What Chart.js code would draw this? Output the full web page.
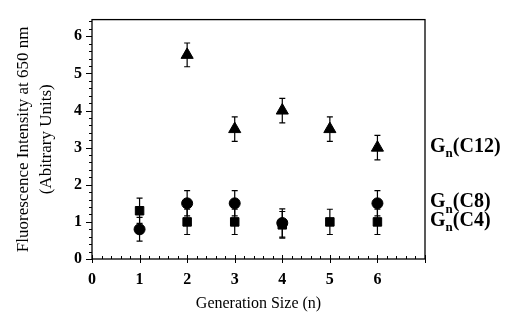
<!DOCTYPE html>
<html>
<head>
<meta charset="utf-8">
<script src="https://cdn.jsdelivr.net/npm/chart.js@4"></script>
<style>
  html, body { margin: 0; padding: 0; background: #fff; }
  #wrap { width: 511px; height: 322px; }
</style>
</head>
<body>
<div id="wrap"><canvas id="chart"></canvas></div>
<script>
// generation sizes
const genC12 = [2, 3, 4, 5, 6];
const genC8 = [1, 2, 3, 4, 6];
const genC4 = [1, 2, 3, 4, 5, 6];

// fluorescence values and error (+/-)
const valC12 = [5.5, 3.5, 4.0, 3.5, 3.0];
const errC12 = [0.32, 0.33, 0.33, 0.33, 0.33];
const valC8 = [0.8, 1.5, 1.5, 0.97, 1.5];
const errC8 = [0.32, 0.34, 0.34, 0.38, 0.34];
const valC4 = [1.3, 1.0, 1.0, 0.92, 1.0, 1.0];
const errC4 = [0.34, 0.34, 0.34, 0.36, 0.34, 0.34];

const seriesNames = ['C12', 'C8', 'C4'];
const xTicks = [0, 1, 2, 3, 4, 5, 6];
const yTicks = [0, 1, 2, 3, 4, 5, 6];

const serif = '"Liberation Serif", "Times New Roman", serif';

function pts(xs, ys, es) {
    return xs.map((x, i) => ({ x: x, y: ys[i], err: es[i] }));
}

// error bars, plot frame, minor ticks and the right-hand labels
const extras = {
    id: 'extras',
    afterDatasetsDraw(chart) {
        const ctx = chart.ctx;
        const xs = chart.scales.x, ys = chart.scales.y;
        ctx.save();
        ctx.strokeStyle = '#000';
        ctx.lineWidth = 1.2;
        chart.data.datasets.forEach(ds => {
            ds.data.forEach(p => {
                const px = xs.getPixelForValue(p.x);
                const top = ys.getPixelForValue(p.y + p.err);
                const bot = ys.getPixelForValue(p.y - p.err);
                ctx.beginPath();
                ctx.moveTo(px, top); ctx.lineTo(px, bot);
                ctx.moveTo(px - 3, top); ctx.lineTo(px + 3, top);
                ctx.moveTo(px - 3, bot); ctx.lineTo(px + 3, bot);
                ctx.stroke();
            });
        });

        const a = chart.chartArea;
        ctx.lineWidth = 1.3;
        ctx.strokeRect(a.left, a.top, a.right - a.left, a.bottom - a.top);

        // minor ticks every 0.2
        ctx.lineWidth = 1;
        ctx.beginPath();
        for (let v = 0; v <= 7.001; v += 0.2) {
            const px = Math.round(xs.getPixelForValue(v)) + 0.5;
            const major = Math.abs(v - Math.round(v)) < 0.01;
            ctx.moveTo(px, a.bottom - (major ? 4 : 3));
            ctx.lineTo(px, a.bottom + (major ? 4 : 0));
        }
        for (let v = 0; v <= 6.401; v += 0.2) {
            const py = Math.round(ys.getPixelForValue(v)) + 0.5;
            const major = Math.abs(v - Math.round(v)) < 0.01;
            ctx.moveTo(a.left - (major ? 6 : 3), py);
            ctx.lineTo(a.left, py);
        }
        ctx.stroke();

        // series labels at the right, next to each series' last value
        ctx.fillStyle = '#000';
        ctx.textBaseline = 'middle';
        const anchors = [valC12[valC12.length - 1], valC8[valC8.length - 1], valC4[valC4.length - 1]];
        seriesNames.forEach((name, i) => {
            const py = ys.getPixelForValue(anchors[i]) - 1;
            let x = a.right + 5;
            ctx.font = 'bold 20px ' + serif;
            ctx.fillText('G', x, py);
            x += ctx.measureText('G').width;
            ctx.font = 'bold 13px ' + serif;
            ctx.fillText('n', x, py + 7);
            x += ctx.measureText('n').width;
            ctx.font = 'bold 20px ' + serif;
            ctx.fillText('(' + name + ')', x, py);
        });
        ctx.restore();
    }
};

new Chart(document.getElementById('chart'), {
    type: 'scatter',
    data: {
        datasets: [
            {
                label: 'Gn(C12)',
                data: pts(genC12, valC12, errC12),
                pointStyle: 'triangle',
                pointRadius: 7,
                backgroundColor: '#000',
                borderColor: '#000'
            },
            {
                label: 'Gn(C8)',
                data: pts(genC8, valC8, errC8),
                pointStyle: 'circle',
                pointRadius: 5.5,
                backgroundColor: '#000',
                borderColor: '#000'
            },
            {
                label: 'Gn(C4)',
                data: pts(genC4, valC4, errC4),
                pointStyle: 'rect',
                pointRadius: 6,
                backgroundColor: '#000',
                borderColor: '#000'
            }
        ]
    },
    options: {
        responsive: true,
        maintainAspectRatio: false,
        animation: false,
        layout: { padding: { top: 11, right: 86, left: 12, bottom: 9 } },
        plugins: {
            legend: { display: false },
            tooltip: { enabled: false }
        },
        scales: {
            x: {
                type: 'linear',
                min: 0,
                max: 7,
                afterBuildTicks: s => { s.ticks = xTicks.concat([7]).map(v => ({ value: v })); },
                afterFit: s => { s.height = 54; },
                grid: { display: false, drawTicks: false },
                border: { display: false },
                ticks: {
                    padding: 11,
                    color: '#000',
                    font: { family: serif, size: 16, weight: 'bold' },
                    callback: v => (xTicks.includes(v) ? String(v) : '')
                },
                title: {
                    display: true,
                    text: 'Generation Size (n)',
                    color: '#000',
                    font: { family: serif, size: 16 },
                    padding: { top: 4, bottom: 0 }
                }
            },
            y: {
                min: 0,
                max: 6.45,
                afterBuildTicks: s => { s.ticks = yTicks.map(v => ({ value: v })); },
                afterFit: s => { s.width = 80; },
                grid: { display: false, drawTicks: false },
                border: { display: false },
                ticks: {
                    padding: 10,
                    color: '#000',
                    font: { family: serif, size: 16, weight: 'bold' }
                },
                title: {
                    display: true,
                    text: ['Fluorescence Intensity at 650 nm', '(Abitrary Units)'],
                    color: '#000',
                    font: { family: serif, size: 17, lineHeight: 1.35 },
                    padding: { top: 0, bottom: 0 }
                }
            }
        }
    },
    plugins: [extras]
});
</script>
</body>
</html>
